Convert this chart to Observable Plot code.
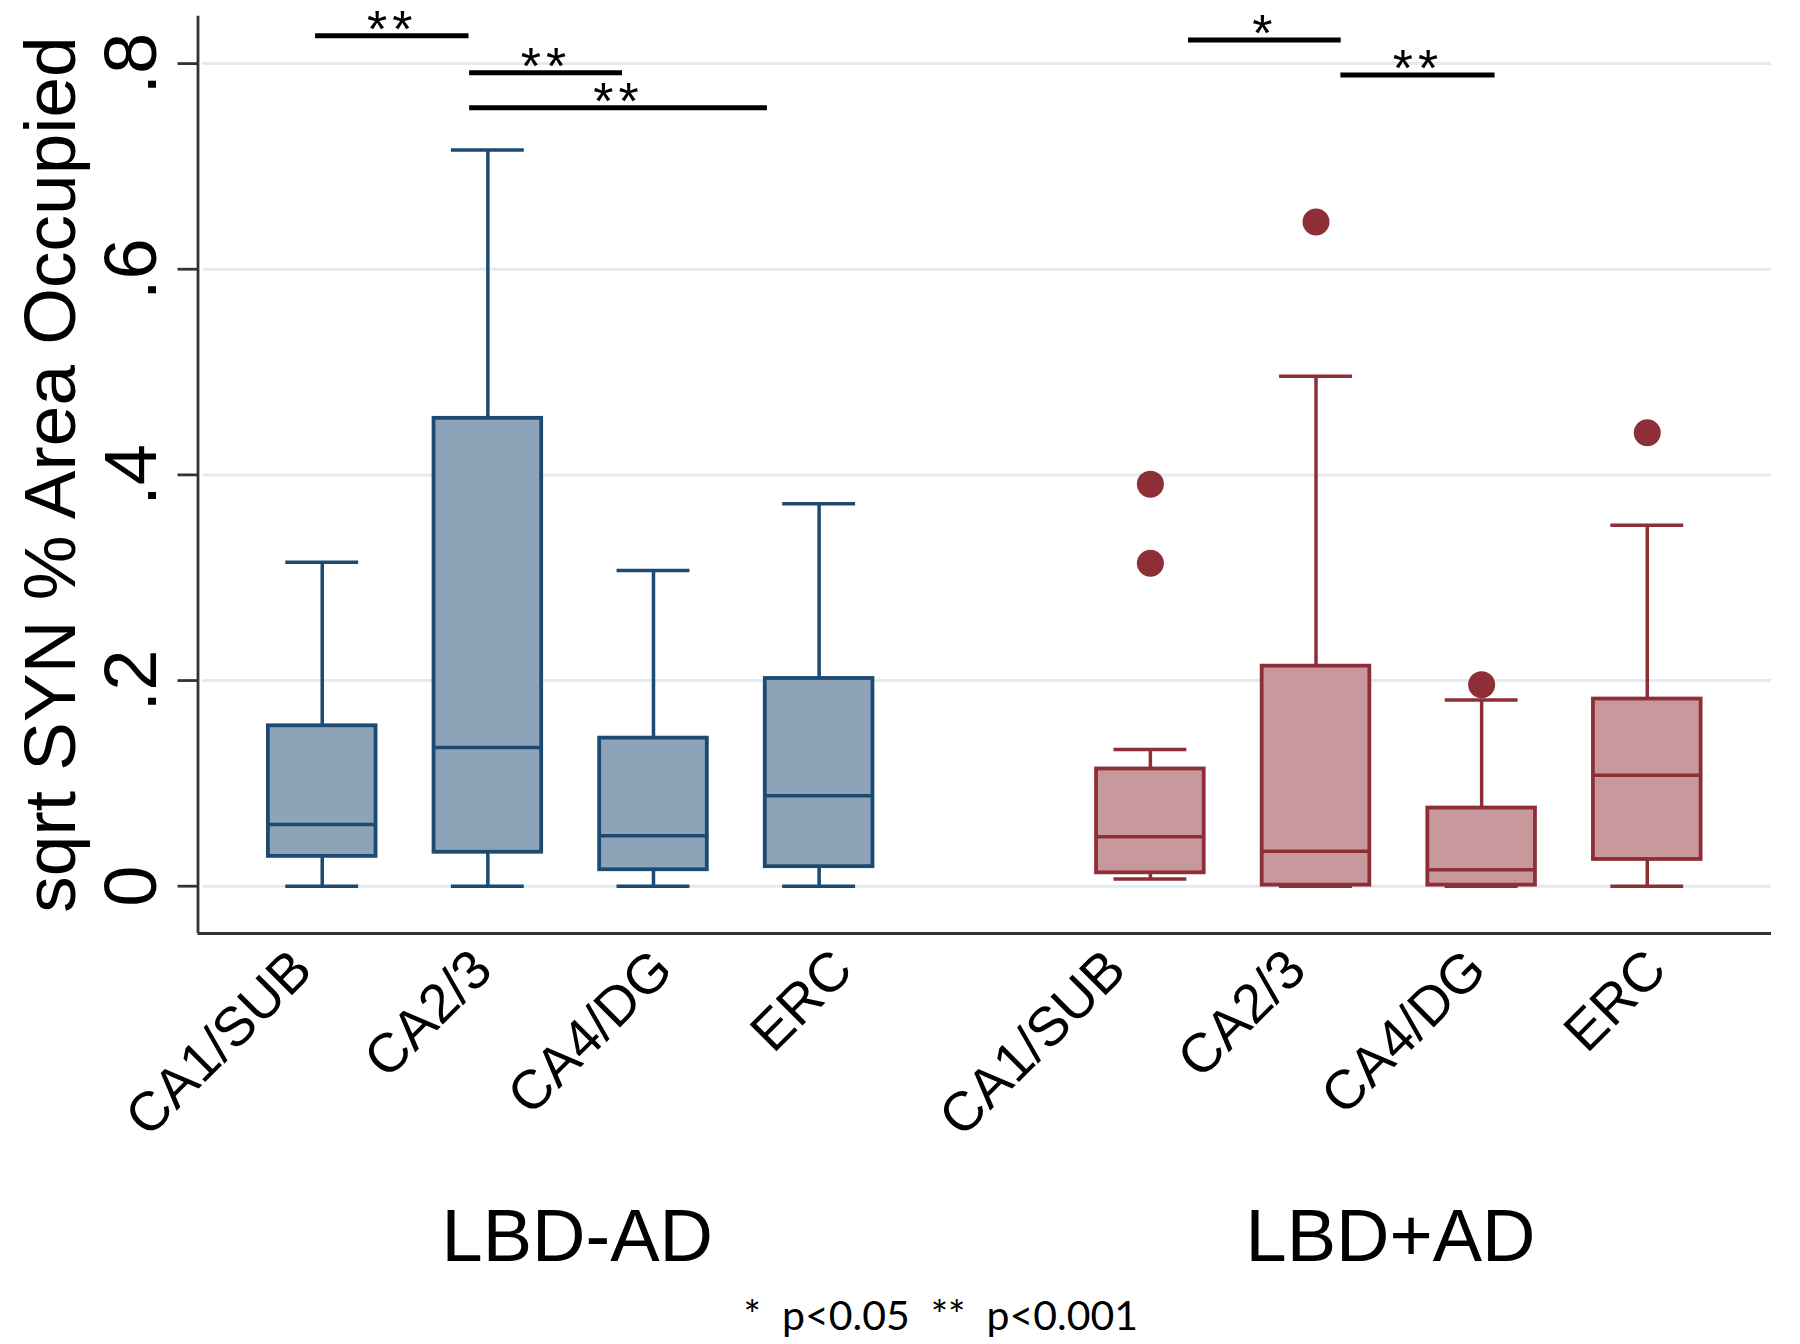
<!DOCTYPE html>
<html>
<head>
<meta charset="utf-8">
<script src="https://cdn.jsdelivr.net/npm/d3@7"></script>
<script src="https://cdn.jsdelivr.net/npm/@observablehq/plot@0.6"></script>
<style>
  html, body { margin: 0; padding: 0; background: #fff; }
  #chart { width: 1800px; height: 1344px; }
</style>
</head>
<body>
<div id="chart"></div>
<script>
// ---- data ----
const groups = ["LBD-AD", "LBD+AD"];
const categories = ["CA1/SUB", "CA2/3", "CA4/DG", "ERC"];
// order: LBD-AD (4 regions), then LBD+AD (4 regions)
const lowerWhisker = [0.000, 0.000, 0.000, 0.000, 0.007, 0.000, 0.000, 0.000];
const q1 =           [0.029, 0.033, 0.016, 0.019, 0.013, 0.001, 0.001, 0.026];
const median =       [0.060, 0.135, 0.049, 0.088, 0.048, 0.034, 0.016, 0.108];
const q3 =           [0.156, 0.455, 0.144, 0.202, 0.114, 0.214, 0.076, 0.182];
const upperWhisker = [0.315, 0.716, 0.307, 0.372, 0.133, 0.496, 0.181, 0.351];
// outliers: index of box, value
const outlierBox =   [4, 4, 5, 6, 7];
const outlierValue = [0.391, 0.314, 0.646, 0.196, 0.441];
// significance annotations
const sigFrom =  [-0.04, 0.89, 0.89, 5.23, 6.15];
const sigTo =    [0.886, 1.813, 2.688, 6.152, 7.081];
const sigValue = [0.827, 0.791, 0.757, 0.823, 0.789];
const sigLabel = ["**", "**", "**", "*", "**"];
const yTicks = [0, 0.2, 0.4, 0.6, 0.8];
const yTickLabels = ["0", ".2", ".4", ".6", ".8"];
const yTitle = "sqrt SYN % Area Occupied";
const caption = "*  p<0.05  **  p<0.001";

// ---- build tables ----
const colors = {
  "LBD-AD": {stroke: "#1c4a70", fill: "#8da3b8"},
  "LBD+AD": {stroke: "#8e2f37", fill: "#c8999c"}
};
const boxes = [];
groups.forEach((g, gi) => categories.forEach((c, ci) => {
  const i = gi * 4 + ci;
  boxes.push({group: g, category: c, pos: gi * 5 + ci,
    lo: lowerWhisker[i], q1: q1[i], med: median[i], q3: q3[i], hi: upperWhisker[i]});
}));
const outliers = outlierBox.map((b, k) => ({pos: boxes[b].pos, group: boxes[b].group, value: outlierValue[k]}));
const sig = sigFrom.map((f, k) => ({x1: f, x2: sigTo[k], y: sigValue[k], label: sigLabel[k]}));
const labelStart = [-0.045, 4.867];
const labelStep = 1.088;
const xLabels = boxes.map((b, i) => ({text: b.category, x: labelStart[Math.floor(i / 4)] + (i % 4) * labelStep}));
const groupShift = [0.04, -0.05];
const groupLabels = groups.map((g, gi) => ({text: g, x: d3.mean(boxes.filter(b => b.group === g), b => b.pos) + groupShift[gi]}));

const xMin = -0.75, xMax = 8.75, yMin = -0.046, yMax = 0.8594;
const halfBox = 0.325, halfCap = 0.22;
const sans = "'Liberation Sans', Arial, sans-serif";

const chart = Plot.plot({
  width: 1800,
  height: 1344,
  marginLeft: 197.5,
  marginRight: 29,
  marginTop: 2,
  marginBottom: 411,
  x: {domain: [xMin, xMax], axis: null},
  y: {domain: [yMin, yMax], axis: null},
  style: {background: "white", fontFamily: sans, color: "black"},
  marks: [
    // gridlines
    Plot.ruleY(yTicks, {x1: xMin, x2: xMax, stroke: "#e2ebee", strokeWidth: 3, insetLeft: 5}),
    // y axis ticks
    Plot.axisY(yTicks, {anchor: "left", tickSize: 20, tickFormat: () => "", label: null, stroke: "#333", strokeWidth: 2.8}),
    // axis lines
    Plot.ruleX([xMin], {y1: yMin, y2: 0.846, stroke: "#333", strokeWidth: 2.8}),
    Plot.ruleY([yMin], {x1: xMin, x2: xMax, stroke: "#333", strokeWidth: 2.8}),
    // whiskers
    Plot.ruleX(boxes, {x: "pos", y1: "q3", y2: "hi", stroke: d => colors[d.group].stroke, strokeWidth: 3.5}),
    Plot.ruleX(boxes, {x: "pos", y1: "lo", y2: "q1", stroke: d => colors[d.group].stroke, strokeWidth: 3.5}),
    Plot.ruleY(boxes, {y: "hi", x1: d => d.pos - halfCap, x2: d => d.pos + halfCap, stroke: d => colors[d.group].stroke, strokeWidth: 3.5}),
    Plot.ruleY(boxes, {y: "lo", x1: d => d.pos - halfCap, x2: d => d.pos + halfCap, stroke: d => colors[d.group].stroke, strokeWidth: 3.5}),
    // boxes
    Plot.rect(boxes, {x1: d => d.pos - halfBox, x2: d => d.pos + halfBox, y1: "q1", y2: "q3",
      fill: d => colors[d.group].fill, stroke: d => colors[d.group].stroke, strokeWidth: 3.8}),
    Plot.ruleY(boxes, {y: "med", x1: d => d.pos - halfBox, x2: d => d.pos + halfBox, stroke: d => colors[d.group].stroke, strokeWidth: 3.5}),
    // outliers
    Plot.dot(outliers, {x: "pos", y: "value", r: 13.5, fill: d => colors[d.group].stroke, stroke: "none"}),
    // significance bars
    Plot.ruleY(sig, {y: "y", x1: "x1", x2: "x2", stroke: "black", strokeWidth: 5}),
    Plot.text(sig, {x: d => (d.x1 + d.x2) / 2, y: "y", text: "label", fontSize: 52, lineAnchor: "bottom", textAnchor: "middle", dy: 11, fill: "black"}),
    // y tick labels
    Plot.text(yTicks, {x: xMin, y: d => d, text: (d, i) => yTickLabels[i], rotate: -90, textAnchor: "middle", lineAnchor: "bottom", dx: -42.5, fontSize: 74, fill: "black"}),
    // y title
    Plot.text([yTitle], {frameAnchor: "left", text: d => d, rotate: -90, textAnchor: "middle", lineAnchor: "bottom", dx: -123.5, dy: 6.5, fontSize: 73, fill: "black"}),
    // x tick labels
    Plot.text(xLabels, {x: "x", y: yMin, text: "text", rotate: -45, textAnchor: "end", lineAnchor: "bottom", dy: 39, fontSize: 55, fill: "black"}),
    // group labels
    Plot.text(groupLabels, {x: "x", y: yMin, text: "text", textAnchor: "middle", lineAnchor: "bottom", dy: 327, fontSize: 74, fill: "black"}),
    // caption
    Plot.text([caption], {frameAnchor: "bottom-left", text: d => d, textAnchor: "start", lineAnchor: "bottom", dx: 545.5, dy: 396, fontSize: 41, fontFamily: "Lato, 'Open Sans', sans-serif", fill: "black"})
  ]
});

d3.select(chart).selectAll("text").filter(function() { return /^\*+$/.test(this.textContent); })
  .attr("letter-spacing", "5px");

document.getElementById("chart").appendChild(chart);
</script>
</body>
</html>
